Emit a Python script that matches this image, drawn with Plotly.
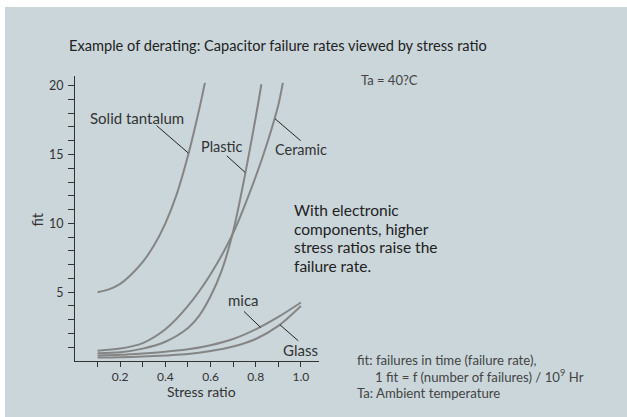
import plotly.graph_objects as go

# ---- data ----
tantalum_x = [0.10, 0.15, 0.20, 0.25, 0.30, 0.35, 0.40, 0.45, 0.50, 0.55, 0.575]
tantalum_y = [5.0, 5.2, 5.6, 6.3, 7.2, 8.4, 10.0, 12.1, 14.9, 18.3, 20.2]

plastic_x = [0.10, 0.20, 0.30, 0.40, 0.50, 0.55, 0.60, 0.65, 0.70, 0.75, 0.80, 0.825]
plastic_y = [0.57, 0.64, 0.90, 1.40, 2.40, 3.30, 4.70, 6.60, 9.40, 13.3, 17.7, 20.1]

ceramic_x = [0.10, 0.20, 0.30, 0.40, 0.50, 0.60, 0.70, 0.80, 0.85, 0.90, 0.92]
ceramic_y = [0.75, 0.90, 1.30, 2.30, 4.00, 6.30, 9.30, 13.4, 15.8, 18.6, 20.2]

low_x = [0.1, 0.2, 0.3, 0.4, 0.5, 0.6, 0.7, 0.8, 0.9, 1.0]
mica_y = [0.40, 0.45, 0.55, 0.68, 0.85, 1.15, 1.60, 2.30, 3.20, 4.25]
glass_y = [0.25, 0.27, 0.32, 0.40, 0.50, 0.72, 1.05, 1.60, 2.55, 4.00]

x_major = [0.2, 0.4, 0.6, 0.8, 1.0]
x_labels = ["0.2", "0.4", "0.6", "0.8", "1.0"]
x_minor = [0.1, 0.3, 0.5, 0.7, 0.9]
y_major = [5, 10, 15, 20]
y_minor = [1, 2, 3, 4, 6, 7, 8, 9, 11, 12, 13, 14, 16, 17, 18, 19]

FONT = "Lato"
BG = "#cad6da"
CURVE = "#858585"

W, H = 627, 417
L, R, T, B = 75, 308, 76, 56
PW, PH = W - L - R, H - T - B


def px(xp, yp):
    return (xp - L) / PW, (H - B - yp) / PH


fig = go.Figure()
for xs, ys in [(tantalum_x, tantalum_y), (plastic_x, plastic_y), (ceramic_x, ceramic_y),
               (low_x, mica_y), (low_x, glass_y)]:
    fig.add_trace(go.Scatter(x=xs, y=ys, mode="lines",
                             line=dict(color=CURVE, width=2, shape="spline", smoothing=0.8),
                             hoverinfo="skip", showlegend=False, cliponaxis=False))

shapes = []
x0, y0 = px(5, 417)
x1, y1 = px(627, 7)
shapes.append(dict(type="rect", xref="paper", yref="paper", x0=x0, y0=y0, x1=x1, y1=y1,
                   fillcolor=BG, line=dict(width=0), layer="below"))

# leader lines
leaders = [((0.361, 17.1), (0.502, 15.1)),
           ((0.672, 14.9), (0.753, 13.7)),
           ((0.885, 17.6), (0.999, 16.0)),
           ((0.748, 3.6), (0.822, 2.43)),
           ((0.907, 2.63), (0.988, 1.47))]
for (a, b) in leaders:
    shapes.append(dict(type="line", xref="x", yref="y", x0=a[0], y0=a[1], x1=b[0], y1=b[1],
                       line=dict(color="#222222", width=1)))

annotations = []


def note(text, xp, yp, size, color="#333333", xanchor="center", yanchor="middle", **kw):
    xx, yy = px(xp, yp)
    annotations.append(dict(text=text, xref="paper", yref="paper", x=xx, y=yy, showarrow=False,
                            xanchor=xanchor, yanchor=yanchor, align="left",
                            font=dict(family=FONT, size=size, color=color), **kw))


note("Example of derating: Capacitor failure rates viewed by stress ratio", 67, 46, 14.6, "#222222", xanchor="left")
note("Ta = 40?C", 359, 80, 13, "#444444", xanchor="left")
note("fit", 36.5, 220, 14.5, "#333333", textangle=-90)
note("Stress ratio", 201.5, 392, 14, "#333333")
note("Solid tantalum", 137, 117.5, 15)
note("Plastic", 222, 146.5, 14.5)
note("Ceramic", 301, 149, 14.5)
note("mica", 243.5, 300, 15)
note("Glass", 300.5, 350, 15)
for i, line in enumerate(["With electronic", "components, higher", "stress ratios raise the", "failure rate."]):
    note(line, 292, 210 + i * 18.7, 15.5, "#222222", xanchor="left")
note("fit: failures in time (failure rate),", 355, 359.5, 13.2, "#444444", xanchor="left")
note("1 fit = f (number of failures) / 10<sup>9</sup> Hr", 373, 376, 13.2, "#444444", xanchor="left")
note("Ta: Ambient temperature", 355, 392.7, 13.2, "#444444", xanchor="left")

fig.update_layout(
    width=W, height=H,
    margin=dict(l=L, r=R, t=T, b=B, pad=0),
    paper_bgcolor="white", plot_bgcolor="rgba(0,0,0,0)",
    shapes=shapes, annotations=annotations,
    font=dict(family=FONT, color="#333333"),
    xaxis=dict(range=[0, 1.08], showgrid=False, zeroline=False, showline=True, linecolor="#333333",
               linewidth=1, ticks="outside", ticklen=5, tickcolor="#333333", tickwidth=1,
               tickvals=x_major, ticktext=x_labels, tickfont=dict(size=12, color="#333333"),
               ticklabelstandoff=0,
               minor=dict(tickvals=x_minor, ticks="outside", ticklen=5, tickcolor="#333333",
                          tickwidth=1, showgrid=False)),
    yaxis=dict(range=[0, 20.7], showgrid=False, zeroline=False, showline=True, linecolor="#333333",
               linewidth=1, ticks="outside", ticklen=6, tickcolor="#333333", tickwidth=1,
               tickvals=y_major, ticktext=[str(v) for v in y_major],
               tickfont=dict(size=12.5, color="#333333"), ticklabelstandoff=2,
               minor=dict(tickvals=y_minor, ticks="outside", ticklen=6, tickcolor="#333333",
                          tickwidth=1, showgrid=False)),
)

fig.write_html("out.html", config={"displayModeBar": False},
               post_script="document.body.style.margin='0';")
